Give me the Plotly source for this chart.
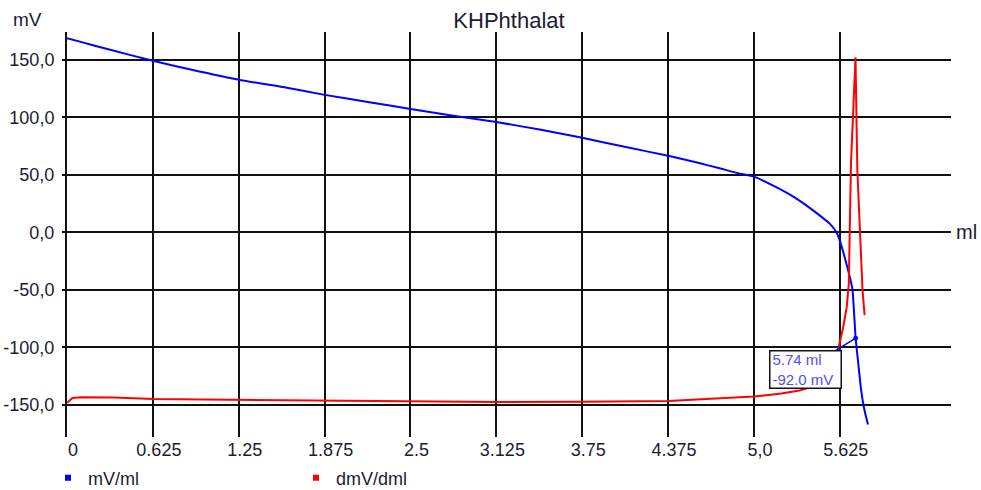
import plotly.graph_objects as go

# ---- data ----
ml_mv = [0.0, 0.1, 0.3, 0.625, 0.9, 1.25, 1.6, 1.875, 2.2, 2.5, 2.8, 3.125, 3.45, 3.75,
         4.05, 4.375, 4.6, 4.75, 4.895, 5.0, 5.14, 5.286, 5.383, 5.48, 5.553, 5.6, 5.625,
         5.66, 5.698, 5.717, 5.74, 5.76, 5.78, 5.80, 5.815, 5.83]
mv = [168.6, 165.4, 159.0, 149.0, 141.5, 132.6, 125.5, 119.4, 113.0, 107.2, 101.5, 95.8,
      89.0, 82.1, 74.5, 66.5, 60.2, 55.6, 51.0, 48.4, 40.5, 31.0, 23.2, 14.5, 7.3, 0.0,
      -7.2, -21.6, -39.0, -50.0, -92.0, -115.0, -137.0, -152.0, -160.0, -167.0]

ml_d = [0.0, 0.04, 0.1, 0.34, 0.625, 1.25, 1.875, 2.5, 3.125, 3.75, 4.375, 5.0, 5.2, 5.33,
        5.43, 5.52, 5.58, 5.618, 5.65, 5.675, 5.69, 5.706, 5.739, 5.752, 5.79, 5.805]
dmv = [-148.0, -144.0, -143.3, -143.4, -144.8, -145.4, -146.6, -147.2, -147.5, -147.2,
       -146.5, -142.7, -140.0, -137.5, -134.0, -126.0, -115.0, -99.0, -82.0, -65.0, -45.0,
       60.0, 152.0, 55.0, -50.0, -72.0]

x_tickvals = [0, 0.625, 1.25, 1.875, 2.5, 3.125, 3.75, 4.375, 5.0, 5.625]
x_ticktext = ["0", "0.625", "1.25", "1.875", "2.5", "3.125", "3.75", "4.375", "5,0", "5.625"]
y_tickvals = [-150, -100, -50, 0, 50, 100, 150]
y_ticktext = ["-150,0", "-100,0", "-50,0", "0,0", "50,0", "100,0", "150,0"]

marker_x = 5.74
marker_y = -92.0
marker_text = "5.74 ml<br>-92.0 mV"

series_names = ["mV/ml", "dmV/dml"]
series_colors = ["#0000ff", "#ff0000"]

FONT = "Liberation Sans, Arial, sans-serif"
TXT = "#1c1c30"

W, H = 981, 490
L, R, T, B = 67, 30, 32, 53
pw, ph = W - L - R, H - T - B

fig = go.Figure()
fig.add_trace(go.Scatter(x=ml_mv, y=mv, mode="lines", line=dict(color=series_colors[0], width=2),
                         line_shape="spline", line_smoothing=0.5,
                         showlegend=False, hoverinfo="skip"))
fig.add_trace(go.Scatter(x=ml_d, y=dmv, mode="lines", line=dict(color=series_colors[1], width=2),
                         showlegend=False, hoverinfo="skip"))
for n, c in zip(series_names, series_colors):
    fig.add_trace(go.Scatter(x=[None], y=[None], mode="markers", name=n,
                             marker=dict(symbol="square", size=6, color=c)))

fig.update_layout(
    width=W, height=H,
    margin=dict(l=L, r=R, t=T, b=B, autoexpand=False),
    paper_bgcolor="white", plot_bgcolor="white",
    font=dict(family=FONT, size=18, color=TXT),
    title=dict(text="KHPhthalat", x=0.5, xref="paper", xanchor="center",
               y=1 - 20 / H, yref="container", yanchor="middle",
               font=dict(size=22, color=TXT, family=FONT)),
    showlegend=True,
    legend=dict(orientation="h", x=48 / W, xref="container", xanchor="left",
                y=1 - 478 / H, yref="container", yanchor="middle",
                font=dict(size=18, color=TXT, family=FONT), itemwidth=30,
                entrywidth=203, entrywidthmode="pixels", bgcolor="rgba(0,0,0,0)",
                traceorder="normal"),
)
fig.update_xaxes(range=[0, 6.434], tickvals=x_tickvals, ticktext=x_ticktext,
                 showgrid=True, gridcolor="#111111", gridwidth=2, zeroline=False,
                 showline=False, ticks="", ticklabelshift=6, automargin=False,
                 tickfont=dict(size=18, color=TXT, family=FONT))
fig.update_yaxes(range=[-177.8, 174.0], tickvals=y_tickvals, ticktext=y_ticktext,
                 showgrid=True, gridcolor="#111111", gridwidth=2, zeroline=False,
                 showline=True, linecolor="#111111", linewidth=2,
                 ticks="outside", ticklen=3, tickwidth=2, tickcolor="#111111",
                 ticklabelstandoff=4, automargin=False,
                 tickfont=dict(size=18, color=TXT, family=FONT))

fig.add_annotation(x=marker_x, y=marker_y, xref="x", yref="y", text=marker_text,
                   showarrow=True, ax=-50, ay=31, arrowhead=6, arrowsize=0.8,
                   arrowwidth=1.5, arrowcolor="#0000ff", standoff=0,
                   bgcolor="white", bordercolor="#111111", borderwidth=1.5, borderpad=2,
                   width=66, height=32, align="left",
                   font=dict(size=15, color="#5050f0", family=FONT))
fig.add_annotation(x=(27 - L) / pw, y=(H - B - 20) / ph, xref="paper", yref="paper",
                   text="mV", showarrow=False, xanchor="center", yanchor="middle",
                   font=dict(size=19, color=TXT, family=FONT))
fig.add_annotation(x=(966 - L) / pw, y=(H - B - 232) / ph, xref="paper", yref="paper",
                   text="ml", showarrow=False, xanchor="center", yanchor="middle",
                   font=dict(size=20, color=TXT, family=FONT))

fig.write_html("out.html")
